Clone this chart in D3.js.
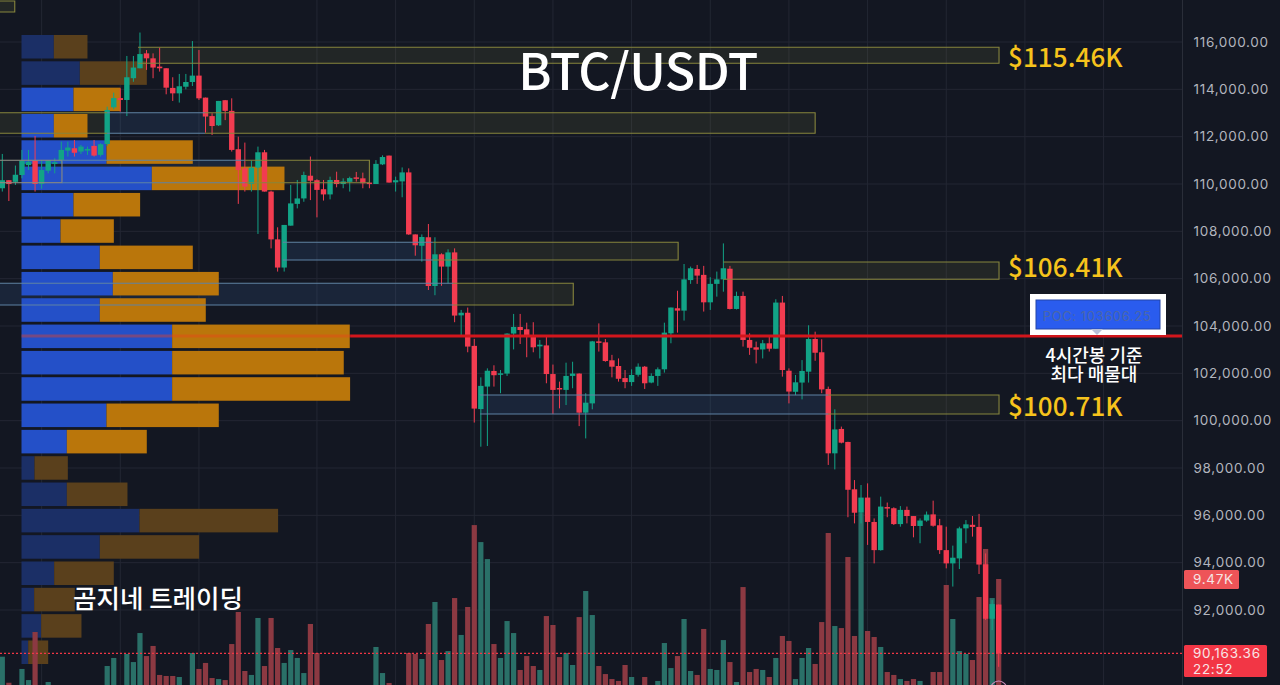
<!DOCTYPE html>
<html>
<head>
<meta charset="utf-8">
<script src="https://cdn.jsdelivr.net/npm/d3@7"></script>
<style>
  html, body { margin: 0; padding: 0; background: #131722; }
  svg { display: block; }
  text { font-family: "Inter", "Noto Sans CJK KR", sans-serif; }
  .kr { font-family: "Noto Sans CJK KR", sans-serif; font-weight: 500; }
</style>
</head>
<body>
<svg id="chart" width="1280" height="685"></svg>
<script>
const opens = [109820,110160,110090,110380,110800,110990,110000,110560,110850,111010,111410,111510,111370,111410,111610,111230,111690,113240,113630,113550,114470,114890,115520,115310,114960,114890,114060,113830,114110,114310,114580,113650,112870,112480,113540,113090,111470,110660,110000,110690,111340,109680,107660,106470,108240,109160,109390,110350,110160,109780,109560,110170,110000,110090,110280,110240,110060,110000,110830,111200,110070,110110,110490,107870,107390,107750,105690,107030,106510,107110,104450,104560,103160,100490,101440,102100,101960,101990,103680,103960,103860,103580,103140,103180,101970,101380,101300,101890,101990,100340,100730,103350,103310,102550,102310,101800,101630,101940,102280,101610,101890,102170,103690,104750,104650,105940,106410,106160,105000,105780,105970,106420,104720,105270,103410,103100,103010,103270,103040,104990,102110,101220,101610,102070,103450,102890,101340,98620,99650,99100,97100,96110,96750,95720,94530,96350,96300,95630,96230,95970,95550,95780,96040,95580,94530,93970,94180,95450,95600,95510,93930,91630,92230];
const highs = [111270,110160,110780,111440,111440,112030,111010,110990,111090,111790,111790,111860,111650,111580,111860,111720,113270,113860,114040,115410,115410,116400,115660,115520,115760,114890,114510,114650,114650,116040,115660,113650,112990,113510,113550,113620,112000,111750,110990,111580,111440,109720,108170,108270,109960,110170,110520,111160,110200,110170,110310,110520,110240,110310,110510,110480,110100,111010,111210,111200,110310,110700,110660,107870,107870,108310,107750,107070,107240,107280,104680,104780,103450,101830,102210,102340,102140,103690,104510,104510,104140,104160,103410,103580,102370,101650,102450,102490,102000,101160,103370,104110,103450,102780,102630,102140,102170,102420,102310,102000,102250,104140,104780,105490,106620,106510,106580,106540,106060,106300,107490,106540,105450,105450,103690,103340,103410,103550,105130,105270,102210,101930,102560,104030,103760,103440,101440,100480,99750,99110,97490,97280,97350,95870,96790,96540,96340,96390,96370,95970,95870,96160,96620,95850,95520,94720,95520,95800,95970,96060,94390,92420,92230];
const lows = [109680,109280,109960,110240,110590,109680,109800,110450,110450,110870,111160,111160,111270,111230,111160,111160,111610,113160,113060,112870,114320,114890,114820,114470,114750,113790,113510,113440,114000,114140,113550,112170,112070,112450,112700,111370,109160,109680,109680,107890,109680,107280,106300,106300,108240,108970,109250,109320,108590,109300,109350,109860,109820,109680,110100,109820,109820,110000,110800,110060,109680,109440,107850,106970,106720,105520,105300,105700,105800,104160,103590,102890,99920,98900,98930,101440,101160,101890,103010,103240,102680,102890,102630,101580,100280,100520,100660,101370,99770,99250,100480,102920,102490,101830,101650,101370,101470,101860,101340,101580,101470,102030,103270,103720,104230,105780,105780,104610,104680,105240,105450,104700,104700,103130,102780,102420,102630,102920,103040,101860,100730,101080,100900,101610,102530,101160,98130,97940,99040,95920,95660,95660,94750,93970,94510,95920,95590,95520,95660,95070,94820,95730,95520,94370,93760,92990,93730,94820,95100,93520,91580,91150,89600];
const closes = [110160,110000,110390,110990,110940,110000,110590,110990,110920,111440,111540,111320,111580,111480,111200,111680,113130,113630,113550,114510,114920,115490,115310,114920,114890,114070,113830,114130,114310,114580,113620,112850,112450,113510,113090,111440,110590,109890,110690,111340,109680,107660,106470,108270,109180,109390,110380,110140,109750,109560,110170,110000,110110,110250,110240,110030,110000,110850,111140,110060,110160,110490,107870,107410,107760,105690,107030,106510,107110,104440,104560,103130,100510,101470,102110,101920,102000,103680,103960,103830,103550,103100,103210,101970,101300,101320,101890,101990,100340,100760,103350,103310,102520,102280,101770,101630,101930,102280,101580,101890,102170,103720,104780,104650,105970,106440,106130,105000,105780,105970,106440,104720,105270,103410,103080,103000,103270,103040,104990,102140,101230,101620,102100,103450,102870,101320,98620,99630,99070,97080,96110,96750,95720,94530,96370,96300,95630,96230,95970,95550,95780,96030,95560,94530,93970,94210,95450,95620,95510,93920,91630,92250,90163.36];
const volumes = [3.39,1.35,0.78,2.43,1.56,5.32,0.7,1.41,0.8,0.9,0.7,0.8,0.9,0.7,0.8,0.9,2.66,3.29,1.0,3.6,2.97,5.24,3.44,4.23,1.96,1.88,1.88,1.8,1.0,3.68,2.43,2.9,1.72,1.64,1.56,4.38,6.89,2.27,1.96,6.42,2.66,6.42,4.07,2.9,3.91,3.29,2.11,5.95,3.68,0.9,0.8,1.0,0.9,0.7,0.8,0.9,1.0,4.15,2.11,1.33,0.8,0.8,3.68,3.6,3.21,5.95,7.67,3.13,3.83,7.98,5.09,7.28,13.69,12.36,11.03,4.38,3.29,6.18,5.24,2.35,3.44,2.66,2.35,6.57,5.87,3.36,3.68,2.74,6.49,8.53,6.65,2.66,2.03,1.64,1.49,2.74,1.8,1.0,1.8,1.0,1.49,4.46,2.5,3.44,6.34,2.27,1.96,5.56,2.43,2.35,4.69,2.97,1.41,8.84,2.19,2.43,2.35,1.8,3.29,5.01,4.62,1.64,3.29,4.07,2.82,6.1,13.07,5.79,5.63,11.19,5.01,14.63,5.4,4.93,4.15,2.19,1.96,1.64,1.49,1.64,1.49,1.0,2.19,2.19,9.0,6.34,3.83,3.6,3.13,8.06,11.82,7.98,9.47];

const priceTicks = [116000,114000,112000,110000,108000,106000,104000,102000,100000,98000,96000,94000,92000];
const timeGridBars = [6,18,30,48,60,72,84,96,108,120,132,144,156,168];

const profileBuy = [9.84,17.75,15.82,9.84,25.86,39.66,15.82,11.87,23.83,27.79,23.83,45.84,45.84,45.84,25.86,13.79,3.96,13.79,35.9,23.83,9.94,3.85,5.98,2.03];
const profileSell = [10.24,20.39,14.3,10.24,26.27,40.37,20.28,16.23,28.3,32.25,32.25,54.06,52.23,54.16,34.18,24.34,10.14,18.46,42.19,30.22,18.15,12.37,12.27,6.09];
const profileDim = [1,1,0,0,0,0,0,0,0,0,0,0,0,0,0,0,1,1,1,1,1,1,1,1];

const zoneKinds = ["y","y","t","y","y","b","g","b","b","b","y","y","y","b","y"];
const zoneStarts = [-1,20.7,-1,30.9,37,16,-1,9.1,42.8,-1,65.7,68.8,110,72.9,126];
const zoneEnds = [1.9,152.05,16,124,56,30.9,9.1,37,65.7,68.8,103.1,87.1,152.05,126,152.05];
const zoneTops = [117732,115776,113013,113013,111002,113013,111002,111002,107537,105805,107537,105805,106705,101086,101086];
const zoneBottoms = [117267,115100,112143,112143,110055,112143,110055,110055,106790,104889,106790,104889,105974,100283,100283];

const upColor = "#12a386";
const downColor = "#f23c50";
const svg = d3.select("#chart");

const x = d3.scaleLinear().domain([0, 152]).range([2.3, 998.7]);
const y = d3.scaleLinear().domain([116000, 92000]).range([42, 610]);
const volY = d3.scaleLinear().domain([0, 9.47]).range([700, 579]);
const profileX = d3.scaleLinear().domain([0, 100]).range([21.5, 350.1]);
const profileY = d3.scaleBand().domain(d3.range(profileBuy.length)).range([35, 664]).paddingInner(0.106);

// grid
const grid = svg.append("g");
grid.selectAll("line.h").data(priceTicks).join("line")
  .attr("class", "h")
  .attr("x1", 0).attr("x2", 1182)
  .attr("y1", (d) => y(d)).attr("y2", (d) => y(d))
  .attr("stroke", "#232733").attr("stroke-width", 1);
grid.selectAll("line.v").data(timeGridBars).join("line")
  .attr("class", "v")
  .attr("x1", (d) => x(d)).attr("x2", (d) => x(d))
  .attr("y1", 0).attr("y2", 685)
  .attr("stroke", "#232733").attr("stroke-width", 1);
svg.append("line").attr("x1", 1182.5).attr("x2", 1182.5).attr("y1", 0).attr("y2", 685)
  .attr("stroke", "#2a2e39");

// zone fills sit under everything, the outlines go on top later
const zoneFill = { y: "rgba(150,150,70,0.12)", t: "rgba(150,150,70,0.12)", b: "rgba(70,130,200,0.14)", g: "rgba(180,180,180,0.05)" };
const zoneStroke = { y: "#86853d", t: "#86853d", b: "#5f82a3", g: "#8a8a80" };
const zoneW = (i) => x(zoneEnds[i]) - x(zoneStarts[i]);
const zoneH = (i) => y(zoneBottoms[i]) - y(zoneTops[i]);
const zoneRect = (sel) => sel
  .attr("x", (d, i) => x(zoneStarts[i]))
  .attr("y", (d, i) => y(zoneTops[i]))
  .attr("width", (d, i) => zoneW(i))
  .attr("height", (d, i) => zoneH(i));
svg.append("g").selectAll("rect").data(zoneKinds).join("rect")
  .call(zoneRect)
  .attr("fill", (d) => zoneFill[d]);

// volume profile
const rows = svg.append("g");
rows.selectAll("rect.buy").data(profileBuy).join("rect")
  .attr("class", "buy")
  .attr("x", profileX(0))
  .attr("y", (d, i) => profileY(i))
  .attr("width", (d) => profileX(d) - profileX(0))
  .attr("height", profileY.bandwidth())
  .attr("fill", (d, i) => (profileDim[i] ? "#1b2f66" : "#2450c8"));
rows.selectAll("rect.sell").data(profileSell).join("rect")
  .attr("class", "sell")
  .attr("x", (d, i) => profileX(profileBuy[i]))
  .attr("y", (d, i) => profileY(i))
  .attr("width", (d) => profileX(d) - profileX(0))
  .attr("height", profileY.bandwidth())
  .attr("fill", (d, i) => (profileDim[i] ? "#5a401c" : "#ba760b"));

// volume bars
svg.append("g").selectAll("rect").data(volumes).join("rect")
  .attr("x", (d, i) => x(i) - 2.6)
  .attr("y", (d) => volY(d))
  .attr("width", 5.2)
  .attr("height", (d) => volY(0) - volY(d))
  .attr("fill", (d, i) => (closes[i] >= opens[i] ? "#2a7068" : "#8c3942"));

// last price line
svg.append("line").attr("x1", 0).attr("x2", 1182).attr("y1", y(90163.36)).attr("y2", y(90163.36))
  .attr("stroke", "#f23645").attr("stroke-width", 1.2).attr("stroke-dasharray", "2 2");

// candles
const candles = svg.append("g").selectAll("g").data(opens).join("g")
  .attr("fill", (d, i) => (closes[i] >= d ? upColor : downColor))
  .attr("stroke", (d, i) => (closes[i] >= d ? upColor : downColor));
candles.append("line")
  .attr("x1", (d, i) => x(i)).attr("x2", (d, i) => x(i))
  .attr("y1", (d, i) => y(highs[i])).attr("y2", (d, i) => y(lows[i]))
  .attr("stroke-width", 1);
candles.append("rect")
  .attr("x", (d, i) => x(i) - 2.7)
  .attr("y", (d, i) => y(Math.max(d, closes[i])))
  .attr("width", 5.4)
  .attr("height", (d, i) => Math.max(1.5, Math.abs(y(d) - y(closes[i]))))
  .attr("stroke", "none");

// zone outlines: y has no left edge, b and t are only top and bottom lines
const zoneDash = (d, i) => {
  const w = zoneW(i);
  const h = zoneH(i);
  if (d === "y") return `${w + h + w} ${h}`;
  if (d === "b" || d === "t") return `${w} ${h}`;
  return null;
};
svg.append("g").selectAll("rect").data(zoneKinds).join("rect")
  .call(zoneRect)
  .attr("fill", "none")
  .attr("stroke", (d) => zoneStroke[d])
  .attr("stroke-dasharray", zoneDash)
  .attr("stroke-width", 1.1);

// POC line
const pocPrice = 103606.25;
svg.append("line").attr("x1", profileX(0)).attr("x2", profileX(100))
  .attr("y1", y(pocPrice) + 0.7).attr("y2", y(pocPrice) + 0.7)
  .attr("stroke", "#f0401c").attr("stroke-width", 2.8).attr("opacity", 0.4);
svg.append("line").attr("x1", profileX(100)).attr("x2", 1182)
  .attr("y1", y(pocPrice) + 0.7).attr("y2", y(pocPrice) + 0.7)
  .attr("stroke", "#d2161c").attr("stroke-width", 2.8);

// price axis
const axis = d3.axisRight(y).tickValues(priceTicks).tickFormat(d3.format(",.2f")).tickSize(0).tickPadding(11);
const axisG = svg.append("g").attr("transform", "translate(1182.5,0)").call(axis);
axisG.select(".domain").remove();
axisG.selectAll("text")
  .attr("fill", "#b2b5be").attr("font-size", 13.5).attr("font-family", "Inter")
  .attr("letter-spacing", 0.7);

// last price tags
svg.append("rect").attr("x", 1184).attr("y", 570).attr("width", 55).attr("height", 19).attr("rx", 1.5).attr("fill", "#ee5458");
svg.append("text").attr("x", 1193).attr("y", 584).attr("fill", "#f5e6e6").attr("font-size", 13.5)
  .attr("letter-spacing", 0.7).text("9.47K");
svg.append("rect").attr("x", 1184).attr("y", 645).attr("width", 83).attr("height", 32).attr("rx", 1.5).attr("fill", "#f23645");
svg.append("text").attr("x", 1193).attr("y", 658).attr("fill", "#f8e4e6").attr("font-size", 13.5)
  .attr("letter-spacing", 0.7).text("90,163.36");
svg.append("text").attr("x", 1193).attr("y", 674).attr("fill", "#f8e4e6").attr("font-size", 13.5)
  .attr("letter-spacing", 0.7).text("22:52");

// marker under the last candle
svg.append("circle").attr("cx", x(152)).attr("cy", 689).attr("r", 8)
  .attr("fill", "none").attr("stroke", "#c88ab8").attr("stroke-width", 1.2);

// annotations
svg.append("text").attr("class", "kr").attr("x", 638).attr("y", 89.5).attr("text-anchor", "middle")
  .attr("fill", "#ffffff").attr("font-size", 50).attr("letter-spacing", -0.5).text("BTC/USDT");

const callouts = ["$115.46K", "$106.41K", "$100.71K"];
const calloutAnchors = [115460, 106580, 100710];
svg.append("g").selectAll("text").data(callouts).join("text")
  .attr("class", "kr")
  .attr("x", 1008).attr("y", (d, i) => y(calloutAnchors[i]) + 12)
  .attr("fill", "#f6c31c").attr("font-size", 26).attr("letter-spacing", 0.1)
  .text((d) => d);

svg.append("rect").attr("x", 1033).attr("y", 297).attr("width", 130).attr("height", 35)
  .attr("fill", "#ffffff").attr("stroke", "#ffffff").attr("stroke-width", 6);
svg.append("rect").attr("x", 1036).attr("y", 300).attr("width", 124).attr("height", 29)
  .attr("fill", "#2a5cee").attr("stroke", "#2244a8").attr("stroke-width", 1);
svg.append("path").attr("d", d3.line()([[1091, 329], [1103, 329], [1097, 335]])).attr("fill", "#b8c0d8");
svg.append("text").attr("x", 1097).attr("y", 320.5).attr("text-anchor", "middle")
  .attr("fill", "#4a67a8").attr("font-size", 13).attr("letter-spacing", 0.6).text("POC: 103606.25");

const pocNote = svg.append("text").attr("class", "kr").attr("text-anchor", "middle")
  .attr("fill", "#ffffff").attr("font-size", 18);
pocNote.append("tspan").attr("x", 1094).attr("y", 362).text("4시간봉 기준");
pocNote.append("tspan").attr("x", 1094).attr("y", 381).text("최다 매물대");

svg.append("text").attr("class", "kr").attr("x", 158).attr("y", 608).attr("text-anchor", "middle")
  .attr("fill", "#ffffff").attr("font-size", 25.5).text("곰지네 트레이딩");
</script>
</body>
</html>
